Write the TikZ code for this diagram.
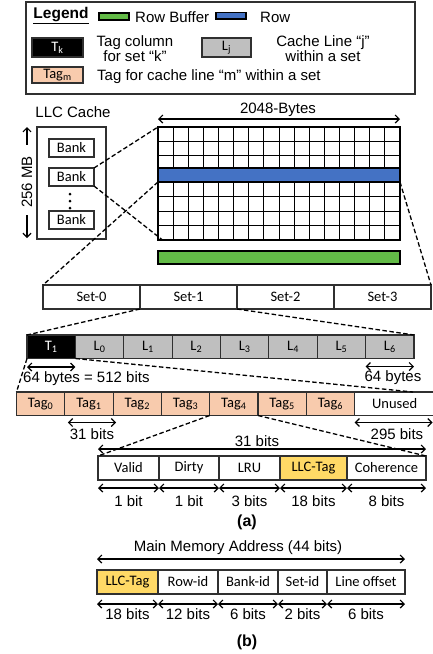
\documentclass[tikz,border=0pt]{standalone}
\usepackage{fontspec}
\setmainfont{Liberation Sans}
\newfontfamily\calibri{Carlito}
\usetikzlibrary{arrows.meta}

\definecolor{tagfill}{HTML}{F8CBAD}
\definecolor{linefill}{HTML}{BFBFBF}
\definecolor{llcfill}{HTML}{FFD966}
\definecolor{rowblue}{HTML}{4472C4}
\definecolor{bufgreen}{RGB}{99,187,71}
\definecolor{edge}{HTML}{303030}

\begin{document}
\begin{tikzpicture}[x=1pt,y=-1pt,
  txt/.style={font=\fontsize{15}{15}\selectfont, inner sep=0pt},
  heading/.style={font=\fontsize{16}{16}\selectfont\bfseries, inner sep=0pt},
  cell/.style={draw=edge, line width=1.1pt, inner sep=0pt, outer sep=0pt,
    font=\calibri\fontsize{14.5}{14.5}\selectfont, anchor=north west},
  gridline/.style={line width=0.9pt, draw=black},
  dim/.style={{Straight Barb[length=4pt,width=8pt]}-{Straight Barb[length=4pt,width=8pt]}, line width=1.2pt},
  onehead/.style={-{Straight Barb[length=4pt,width=8pt]}, line width=1.2pt},
  zoomline/.style={line width=1.3pt, dash pattern=on 4.5pt off 2.5pt},
]
\useasboundingbox (0,0) rectangle (433,654);
\clip (0,0) rectangle (433,654);

% ---------- legend ----------
\node[cell, minimum width=389pt, minimum height=92pt] (legendframe) at (26,2) {};
\node[heading, font=\fontsize{15.5}{15.5}\selectfont\bfseries] (legtitle) at (61,16) {\underline{Legend}};
\node[cell, draw=black, fill=bufgreen, minimum width=30pt, minimum height=7pt] (keybuf) at (99,13) {};
\node[txt, anchor=west] (keybuftxt) at (135,17) {Row Buffer};
\node[cell, draw=black, fill=rowblue, minimum width=30pt, minimum height=6.5pt] (keyrow) at (216,12.5) {};
\node[txt, anchor=west] (keyrowtxt) at (260,17) {Row};
\node[cell, fill=black, text=white, minimum width=51pt, minimum height=19pt] (keyt) at (32,38) {T\textsubscript{k}};
\node[txt, align=center] (keyttxt) at (135,49) {Tag column\\for set “k”};
\node[cell, fill=linefill, minimum width=49pt, minimum height=19pt] (keyl) at (202,38) {L\textsubscript{j}};
\node[txt, align=center] (keyltxt) at (323,49) {Cache Line “j”\\within a set};
\node[cell, fill=tagfill, minimum width=51pt, minimum height=16pt] (keytag) at (32,67) {Tag\textsubscript{m}};
\node[txt, anchor=west] (keytagtxt) at (97,77) {Tag for cache line “m” within a set};

% ---------- LLC cache and banks ----------
\node[txt] (llclabel) at (73,112) {LLC Cache};
\node[cell, minimum width=69pt, minimum height=112pt] (llc) at (37,127) {};
\node[cell, minimum width=45pt, minimum height=18pt] (bank1) at (49,139) {Bank};
\node[cell, minimum width=45pt, minimum height=18pt] (bank2) at (49,168) {Bank};
\node[cell, minimum width=45pt, minimum height=18pt] (bank3) at (49,211) {Bank};
\foreach \y in {194,201,208} \fill (70,\y) circle (1.5pt);

\node[txt, rotate=90] (mb) at (27,182) {256 MB};
\coordinate (mbtop) at (27,127);
\coordinate (mbbot) at (27,238);
\draw[onehead] ([yshift=11pt]mb.east) -- (mbtop);
\draw[onehead] ([yshift=-7pt]mb.west) -- (mbbot);

% ---------- bank array ----------
\node[cell, draw=black, minimum width=242pt, minimum height=113pt] (grid) at (158,127) {};
\foreach \i in {1,...,15} \draw[gridline] ({158+\i*15.125},127) -- ({158+\i*15.125},240);
\foreach \y in {141.3,155,196.7,211,225.3} \draw[gridline] (158,\y) -- (400,\y);
\node[cell, draw=black, fill=rowblue, minimum width=242pt, minimum height=14pt] (bluerow) at (158,168) {};
\node[cell, draw=black, fill=bufgreen, minimum width=242pt, minimum height=13pt] (buffer) at (158,251) {};

\node[txt] (bytes) at (278,110) {2048-Bytes};
\draw[dim] ([yshift=8pt]grid.north west) -- ([yshift=8pt]grid.north east);

% ---------- sets ----------
\foreach \k/\x in {0/43,1/140,2/237,3/334}
  \node[cell, minimum width=97pt, minimum height=24pt] (set\k) at (\x,285) {Set-\k};

\draw[zoomline] (bank2.north east) -- (grid.north west);
\draw[zoomline] (bank2.south east) -- ([xshift=4.5pt]grid.south west);
\draw[zoomline] (bluerow.south west) -- (set0.north west);
\draw[zoomline] (bluerow.south east) -- (set3.north east);

% ---------- lines within a set ----------
\node[cell, fill=black, text=white, minimum width=48.375pt, minimum height=23.5pt] (t1) at (27,335) {T\textsubscript{1}};
\foreach \i in {0,...,6}
  \node[cell, fill=linefill, minimum width=48.375pt, minimum height=23.5pt] (l\i) at ({27+(\i+1)*48.375},335) {L\textsubscript{\i}};

\draw[zoomline] (set1.south west) -- (t1.north west);
\draw[zoomline] (set1.south east) -- (l6.north east);

\draw[dim] ([yshift=-8.5pt]t1.south west) -- ([yshift=-8.5pt]t1.south east);
\node[txt, anchor=west] (tsize) at (23,379) {64 bytes = 512 bits};
\draw[dim] ([yshift=-8pt]l6.south west) -- ([yshift=-8pt]l6.south east);
\node[txt] (lsize) at (393,378) {64 bytes};

% ---------- tag column ----------
\foreach \i in {0,...,6}
  \node[cell, fill=tagfill, minimum width=48.3pt, minimum height=23.5pt] (tag\i) at ({16.5+\i*48.3},392) {Tag\textsubscript{\i}};
\node[cell, minimum width=80pt, minimum height=23.5pt] (unused) at (354.6,392) {};
\node[txt, font=\calibri\fontsize{14.5}{14.5}\selectfont] (unusedtxt) at (394.6,403.75) {Unused};

\coordinate (tagend) at (413,392);
\draw[zoomline] (t1.south west) -- (tag0.north west);
\draw[zoomline] (t1.south east) -- (tagend);

\draw[dim] ([shift={(3,7)}]tag1.south west) -- ([shift={(3,7)}]tag1.south east);
\node[txt] (tagbits) at (92,434) {31 bits};
\coordinate (unusedend) at (432.6,422.5);
\draw[dim] ([yshift=-7pt]unused.south west) -- (unusedend);
\node[txt] (unusedbits) at (397,434) {295 bits};

% ---------- tag fields ----------
\foreach \n/\x/\w/\t in {valid/98/61/Valid, dirty/159/60/Dirty, lru/219/61/LRU, coh/347/79/Coherence}
  \node[cell, minimum width=\w pt, minimum height=24pt] (f\n) at (\x,456) {\t};
\node[cell, fill=llcfill, minimum width=67pt, minimum height=24pt] (ftag) at (280,456) {LLC-Tag};

\draw[zoomline] (tag4.south west) -- (fvalid.north west);
\draw[zoomline] (tag4.south east) -- (fcoh.north east);

\node[txt] (fieldsbits) at (257,441) {31 bits};
\draw[dim] ([yshift=7pt]fvalid.north west) -- ([yshift=7pt]fcoh.north east);

\foreach \n/\t in {valid/1 bit, dirty/1 bit, lru/3 bits, tag/18 bits, coh/8 bits} {
  \draw[dim] ([yshift=-8pt]f\n.south west) -- ([yshift=-8pt]f\n.south east);
  \node[txt] (w\n) at ([yshift=-21pt]f\n.south) {\t};
}

\node[heading] (capa) at (247,522) {(a)};

% ---------- main memory address ----------
\node[txt] (addrtitle) at (238,548) {Main Memory Address (44 bits)};
\node[cell, fill=llcfill, minimum width=61pt, minimum height=24pt] (bllc) at (97,570) {LLC-Tag};
\foreach \n/\x/\w/\t in {brow/158/60/Row-id, bbank/218/60/Bank-id, bset/278/49/Set-id, boff/327/78/Line offset}
  \node[cell, minimum width=\w pt, minimum height=24pt] (\n) at (\x,570) {\t};

\draw[dim] ([yshift=11pt]bllc.north west) -- ([yshift=11pt]boff.north east);

\foreach \n/\t in {bllc/18 bits, brow/12 bits, bbank/6 bits, bset/2 bits, boff/6 bits} {
  \draw[dim] ([yshift=-10pt]\n.south west) -- ([yshift=-10pt]\n.south east);
  \node[txt] (w\n) at ([yshift=-20.5pt]\n.south) {\t};
}

\node[heading] (capb) at (247,642) {(b)};
\end{tikzpicture}
\end{document}
